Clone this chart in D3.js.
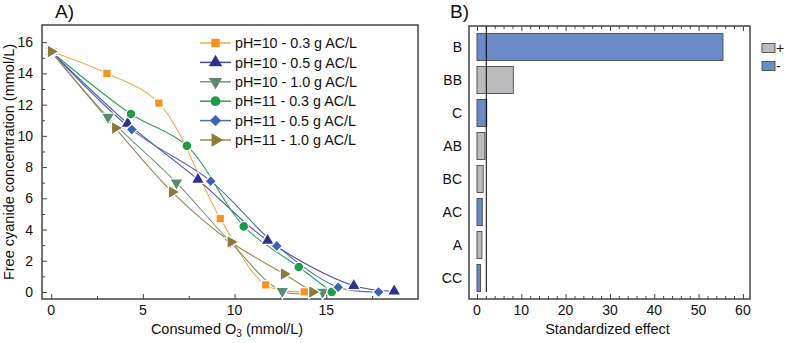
<!DOCTYPE html>
<html>
<head>
<meta charset="utf-8">
<script src="https://cdn.jsdelivr.net/npm/d3@7"></script>
<style>
  body { margin: 0; background: #fff; }
  text { font-family: "Liberation Sans", Arial, sans-serif; fill: #111; }
</style>
</head>
<body>
<div id="chart"></div>
<script>
// ---- data: panel A (consumed O3 vs free cyanide) ----
const seriesNames = ["pH=10 - 0.3 g AC/L", "pH=10 - 0.5 g AC/L", "pH=10 - 1.0 g AC/L",
                     "pH=11 - 0.3 g AC/L", "pH=11 - 0.5 g AC/L", "pH=11 - 1.0 g AC/L"];
const o3_10_03 = [0, 3.04, 5.87, 9.22, 11.7, 13.8];
const cn_10_03 = [15.4, 14.0, 12.1, 4.7, 0.45, 0.0];
const o3_10_05 = [0, 4.17, 8.0, 11.8, 16.5, 18.7];
const cn_10_05 = [15.4, 10.8, 7.2, 3.3, 0.4, 0.05];
const o3_10_10 = [0, 3.1, 6.83, 9.77, 12.6, 14.8];
const cn_10_10 = [15.4, 11.2, 7.0, 3.2, 0.05, 0.0];
const o3_11_03 = [0, 4.35, 7.4, 10.5, 13.5, 15.3];
const cn_11_03 = [15.4, 11.4, 9.36, 4.2, 1.6, 0.0];
const o3_11_05 = [0, 4.4, 8.7, 12.3, 15.65, 17.85];
const cn_11_05 = [15.4, 10.4, 7.1, 2.95, 0.3, 0.0];
const o3_11_10 = [0, 3.5, 6.6, 9.8, 12.7, 14.25];
const cn_11_10 = [15.4, 10.5, 6.4, 3.2, 1.15, 0.0];
const xTicksA = [0, 5, 10, 15];
const yTicksA = [0, 2, 4, 6, 8, 10, 12, 14, 16];

// ---- data: panel B (standardized effects) ----
const effectTerms = ["B", "BB", "C", "AB", "BC", "AC", "A", "CC"];
const effectValues = [55.5, 8.2, 2.2, 1.8, 1.4, 1.2, 1.1, 0.8];
const effectSigns = ["-", "+", "-", "+", "+", "-", "+", "-"];
const xTicksB = [0, 10, 20, 30, 40, 50, 60];
const tCritical = 2.1;

const width = 785, height = 343;
const svg = d3.select("#chart").append("svg")
    .attr("width", width).attr("height", height)
    .attr("viewBox", [0, 0, width, height]);

const axisColor = "#444";
const seriesColors = ["#f7941d", "#2e3192", "#5b8a72", "#1f9a4a", "#3d63b8", "#8b7a3a"];
const lineColors = ["#f9a84a", "#4a4da0", "#6f9a86", "#2aa357", "#4a6fc0", "#9a8a50"];
const rot = [0, 0, 180, 0, 45, 90];
const symTypes = [d3.symbolSquare, d3.symbolTriangle, d3.symbolTriangle, d3.symbolCircle, d3.symbolSquare, d3.symbolTriangle];
const symSizes = [72, 78, 78, 75, 64, 78];

const seriesX = [o3_10_03, o3_10_05, o3_10_10, o3_11_03, o3_11_05, o3_11_10];
const seriesY = [cn_10_03, cn_10_05, cn_10_10, cn_11_03, cn_11_05, cn_11_10];

// ================= Panel A =================
const A = {l: 42, r: 418, t: 25, b: 299};
const xA = d3.scaleLinear().domain([-0.5, 20]).range([A.l, A.r]);
const yA = d3.scaleLinear().domain([-0.45, 17.1]).range([A.b, A.t]);

const gA = svg.append("g");

// bottom axis, ticks inward
gA.append("g")
    .attr("transform", `translate(0,${A.b})`)
    .call(d3.axisBottom(xA).tickValues(d3.range(0, 20, 2.5)).tickSize(-5).tickFormat(""))
    .call(g => g.select(".domain").remove())
    .call(g => g.selectAll(".tick line").attr("stroke", axisColor)
        .attr("y2", (d) => d % 5 === 0 ? -5 : -3));
gA.append("g")
    .selectAll("text").data(xTicksA).join("text")
    .attr("x", d => xA(d)).attr("y", A.b + 16)
    .attr("text-anchor", "middle").attr("font-size", 14)
    .text(d => d);

// left axis, ticks inward
gA.append("g")
    .attr("transform", `translate(${A.l},0)`)
    .call(d3.axisLeft(yA).tickValues(d3.range(0, 17, 1)).tickSize(-5).tickFormat(""))
    .call(g => g.select(".domain").remove())
    .call(g => g.selectAll(".tick line").attr("stroke", axisColor)
        .attr("x2", (d) => d % 2 === 0 ? 5 : 3));
gA.append("g")
    .selectAll("text").data(yTicksA).join("text")
    .attr("x", A.l - 9).attr("y", d => yA(d)).attr("dy", "0.36em")
    .attr("text-anchor", "end").attr("font-size", 14)
    .text(d => d);

gA.append("rect")
    .attr("x", A.l).attr("y", A.t).attr("width", A.r - A.l).attr("height", A.b - A.t)
    .attr("fill", "none").attr("stroke", axisColor).attr("stroke-width", 1.5);

// series
const line = d3.line().curve(d3.curveCatmullRom.alpha(0.5)).x(d => xA(d[0])).y(d => yA(d[1]));
seriesNames.forEach((name, i) => {
    const pts = seriesX[i].map((x, j) => [x, seriesY[i][j]]);
    gA.append("path").datum(pts)
        .attr("d", line).attr("fill", "none")
        .attr("stroke", lineColors[i]).attr("stroke-width", 1.1);
});
seriesNames.forEach((name, i) => {
    const pts = seriesX[i].map((x, j) => [x, seriesY[i][j]]);
    gA.append("g").selectAll("path").data(pts).join("path")
        .attr("transform", d => `translate(${xA(d[0])},${yA(d[1])}) rotate(${rot[i]})`)
        .attr("d", d3.symbol(symTypes[i], symSizes[i]))
        .attr("fill", seriesColors[i])
        .attr("stroke", "#fff").attr("stroke-width", 1.2);
});

// legend
const leg = gA.append("g").attr("transform", "translate(200,43)");
seriesNames.forEach((name, i) => {
    const row = leg.append("g").attr("transform", `translate(0,${i * 19.4})`);
    row.append("line").attr("x1", 0).attr("x2", 31).attr("y1", 0).attr("y2", 0)
        .attr("stroke", lineColors[i]).attr("stroke-width", 1.5);
    row.append("path")
        .attr("transform", `translate(15.5,0) rotate(${rot[i]})`)
        .attr("d", d3.symbol(symTypes[i], symSizes[i]))
        .attr("fill", seriesColors[i]);
    row.append("text").attr("x", 35).attr("y", 0).attr("dy", "0.36em")
        .attr("font-size", 14.3).text(name);
});

gA.append("text").attr("x", A.l + 13).attr("y", 18).attr("font-size", 19).text("A)");
gA.append("text")
    .attr("transform", `translate(14,${(A.t + A.b) / 2}) rotate(-90)`)
    .attr("text-anchor", "middle").attr("font-size", 14.5)
    .text("Free cyanide concentration (mmol/L)");
const xt = gA.append("text").attr("x", (A.l + A.r) / 2 - 3).attr("y", 334)
    .attr("text-anchor", "middle").attr("font-size", 14.5);
xt.append("tspan").text("Consumed O");
xt.append("tspan").attr("font-size", 10).attr("dy", 3).text("3");
xt.append("tspan").attr("dy", -3).text(" (mmol/L)");

// ================= Panel B =================
const B = {l: 469, r: 750, t: 26, b: 299};
const xB = d3.scaleLinear().domain([-1.8, 61.6]).range([B.l, B.r]);
const yB = d3.scaleBand().domain(effectTerms).range([B.t, B.b])
    .paddingInner(0.18).paddingOuter(0.225);
const gB = svg.append("g");

const minorB = d3.range(0, 61, 2);
gB.append("g")
    .attr("transform", `translate(0,${B.b})`)
    .call(d3.axisBottom(xB).tickValues(minorB).tickFormat(""))
    .call(g => g.select(".domain").remove())
    .call(g => g.selectAll(".tick line").attr("stroke", axisColor)
        .attr("y2", d => d % 10 === 0 ? -5 : -3));
gB.append("g")
    .attr("transform", `translate(0,${B.t})`)
    .call(d3.axisTop(xB).tickValues(minorB).tickFormat(""))
    .call(g => g.select(".domain").remove())
    .call(g => g.selectAll(".tick line").attr("stroke", axisColor)
        .attr("y2", d => d % 10 === 0 ? 5 : 3));
gB.append("g")
    .selectAll("text").data(xTicksB).join("text")
    .attr("x", d => xB(d)).attr("y", B.b + 16)
    .attr("text-anchor", "middle").attr("font-size", 14)
    .text(d => d);

gB.selectAll("rect.bar")
    .data(effectTerms).join("rect")
    .attr("class", "bar")
    .attr("x", xB(0))
    .attr("y", d => yB(d))
    .attr("width", (d, i) => xB(effectValues[i]) - xB(0))
    .attr("height", yB.bandwidth())
    .attr("fill", (d, i) => effectSigns[i] === "+" ? "#bcbcbe" : "#6a8bc8")
    .attr("stroke", "#4a4a4a").attr("stroke-width", 0.9);

gB.append("g")
    .selectAll("text").data(effectTerms).join("text")
    .attr("x", B.l - 7).attr("y", d => yB(d) + yB.bandwidth() / 2).attr("dy", "0.36em")
    .attr("text-anchor", "end").attr("font-size", 14)
    .text(d => d);

gB.append("line")
    .attr("x1", xB(tCritical)).attr("x2", xB(tCritical))
    .attr("y1", B.t).attr("y2", B.b - 7)
    .attr("stroke", "#000").attr("stroke-width", 1);

gB.append("rect")
    .attr("x", B.l).attr("y", B.t).attr("width", B.r - B.l).attr("height", B.b - B.t)
    .attr("fill", "none").attr("stroke", axisColor).attr("stroke-width", 1.5);

// legend B
const legB = gB.append("g").attr("transform", "translate(762,48)");
[["+", "#bcbcbe"], ["-", "#6a8bc8"]].forEach((d, i) => {
    legB.append("rect").attr("x", 0).attr("y", i * 18 - 4.5).attr("width", 13).attr("height", 9)
        .attr("fill", d[1]).attr("stroke", "#4a4a4a").attr("stroke-width", 0.9);
    legB.append("text").attr("x", 14).attr("y", i * 18).attr("dy", "0.36em")
        .attr("font-size", 14).text(d[0]);
});

gB.append("text").attr("x", 450).attr("y", 18).attr("font-size", 19).text("B)");
gB.append("text").attr("x", (B.l + B.r) / 2 - 2).attr("y", 334)
    .attr("text-anchor", "middle").attr("font-size", 14.5).text("Standardized effect");
</script>
</body>
</html>
